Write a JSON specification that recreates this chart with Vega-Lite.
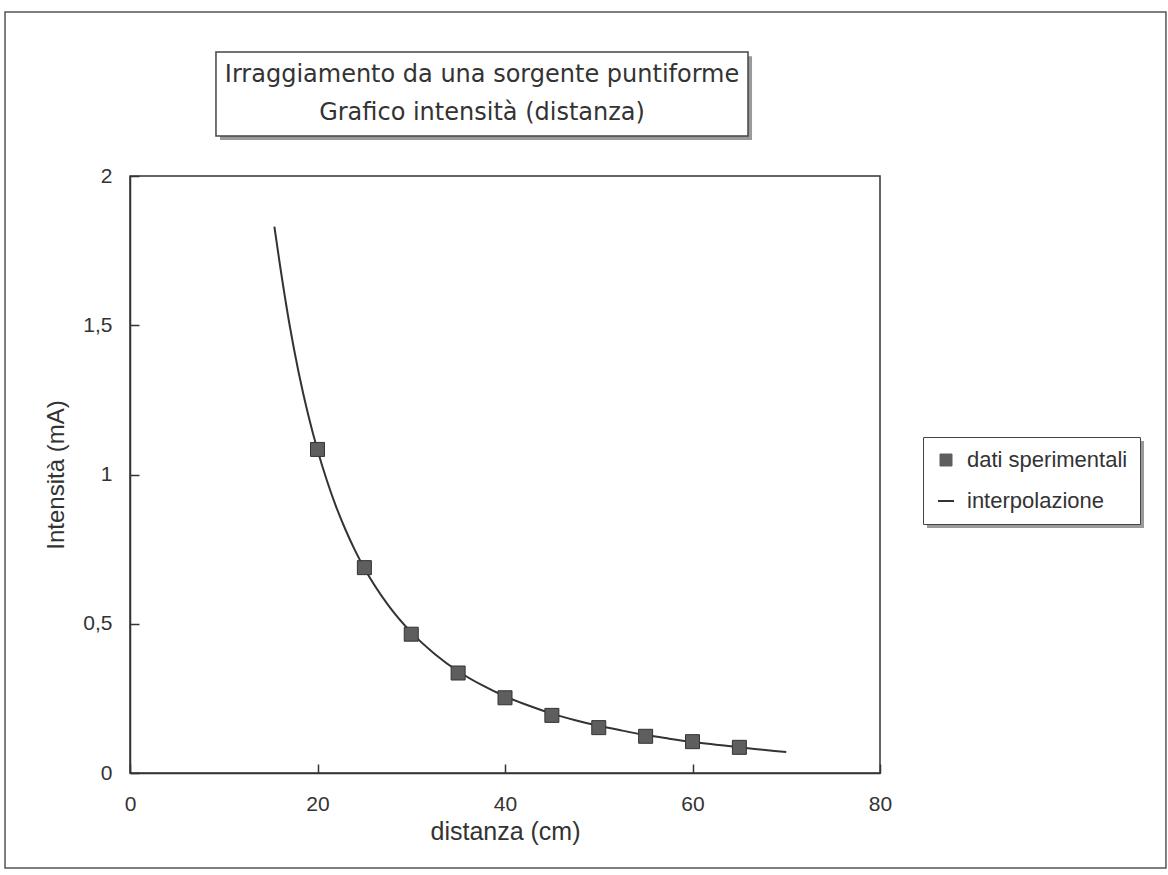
{
  "$schema": "https://vega.github.io/schema/vega-lite/v6.json",
  "width": 750,
  "height": 597,
  "padding": {"left": 4, "top": 11, "right": 0, "bottom": 0},
  "background": "white",
  "config": {
    "view": {"stroke": "#333", "strokeWidth": 1.5},
    "font": "Liberation Sans",
    "axis": {
      "grid": false,
      "domainColor": "#333",
      "domainWidth": 1.5,
      "tickColor": "#333",
      "tickWidth": 1.5,
      "tickSize": -9,
      "labelColor": "#333",
      "titleColor": "#333",
      "labelFont": "Liberation Sans Narrow, Liberation Sans",
      "labelFontSize": 21,
      "titleFont": "Liberation Sans",
      "titleFontWeight": "normal",
      "labelFlush": false
    }
  },
  "datasets": {
    "misure": [
      {"distanza": 20, "intensita": 1.084, "serie": "dati sperimentali"},
      {"distanza": 25, "intensita": 0.688, "serie": "dati sperimentali"},
      {"distanza": 30, "intensita": 0.465, "serie": "dati sperimentali"},
      {"distanza": 35, "intensita": 0.335, "serie": "dati sperimentali"},
      {"distanza": 40, "intensita": 0.252, "serie": "dati sperimentali"},
      {"distanza": 45, "intensita": 0.193, "serie": "dati sperimentali"},
      {"distanza": 50, "intensita": 0.152, "serie": "dati sperimentali"},
      {"distanza": 55, "intensita": 0.123, "serie": "dati sperimentali"},
      {"distanza": 60, "intensita": 0.105, "serie": "dati sperimentali"},
      {"distanza": 65, "intensita": 0.086, "serie": "dati sperimentali"}
    ],
    "curva": [
      {"distanza": 15.4, "intensita": 1.83, "serie": "interpolazione"},
      {"distanza": 16, "intensita": 1.701, "serie": "interpolazione"},
      {"distanza": 17, "intensita": 1.505, "serie": "interpolazione"},
      {"distanza": 18, "intensita": 1.34, "serie": "interpolazione"},
      {"distanza": 19, "intensita": 1.201, "serie": "interpolazione"},
      {"distanza": 20, "intensita": 1.082, "serie": "interpolazione"},
      {"distanza": 21, "intensita": 0.98, "serie": "interpolazione"},
      {"distanza": 22, "intensita": 0.891, "serie": "interpolazione"},
      {"distanza": 23, "intensita": 0.814, "serie": "interpolazione"},
      {"distanza": 24, "intensita": 0.746, "serie": "interpolazione"},
      {"distanza": 25, "intensita": 0.686, "serie": "interpolazione"},
      {"distanza": 27.5, "intensita": 0.564, "serie": "interpolazione"},
      {"distanza": 30, "intensita": 0.471, "serie": "interpolazione"},
      {"distanza": 32.5, "intensita": 0.399, "serie": "interpolazione"},
      {"distanza": 35, "intensita": 0.341, "serie": "interpolazione"},
      {"distanza": 37.5, "intensita": 0.295, "serie": "interpolazione"},
      {"distanza": 40, "intensita": 0.257, "serie": "interpolazione"},
      {"distanza": 42.5, "intensita": 0.226, "serie": "interpolazione"},
      {"distanza": 45, "intensita": 0.199, "serie": "interpolazione"},
      {"distanza": 47.5, "intensita": 0.177, "serie": "interpolazione"},
      {"distanza": 50, "intensita": 0.158, "serie": "interpolazione"},
      {"distanza": 52.5, "intensita": 0.142, "serie": "interpolazione"},
      {"distanza": 55, "intensita": 0.127, "serie": "interpolazione"},
      {"distanza": 57.5, "intensita": 0.115, "serie": "interpolazione"},
      {"distanza": 60, "intensita": 0.104, "serie": "interpolazione"},
      {"distanza": 62.5, "intensita": 0.095, "serie": "interpolazione"},
      {"distanza": 65, "intensita": 0.086, "serie": "interpolazione"},
      {"distanza": 67.5, "intensita": 0.078, "serie": "interpolazione"},
      {"distanza": 70, "intensita": 0.07, "serie": "interpolazione"}
    ]
  },
  "layer": [
    {
      "description": "chart area border",
      "data": {"values": [{}]},
      "mark": {"type": "rect", "fillOpacity": 0, "stroke": "#555", "strokeWidth": 1.5, "clip": false},
      "encoding": {
        "x": {"datum": -13.33, "type": "quantitative", "scale": {"domain": [0, 80]}},
        "x2": {"datum": 110.5},
        "y": {"datum": 2.549, "type": "quantitative", "scale": {"domain": [0, 2]}},
        "y2": {"datum": -0.318}
      }
    },
    {
      "description": "title box shadow",
      "data": {"values": [{}]},
      "mark": {"type": "rect", "fill": "#9a9a9a", "clip": false},
      "encoding": {
        "x": {"datum": 9.6, "type": "quantitative", "scale": {"domain": [0, 80]}},
        "x2": {"datum": 66.35},
        "y": {"datum": 2.401, "type": "quantitative", "scale": {"domain": [0, 2]}},
        "y2": {"datum": 2.121}
      }
    },
    {
      "description": "title box",
      "data": {"values": [{}]},
      "mark": {"type": "rect", "fill": "white", "stroke": "#444", "strokeWidth": 1.5, "clip": false},
      "encoding": {
        "x": {"datum": 9.17, "type": "quantitative", "scale": {"domain": [0, 80]}},
        "x2": {"datum": 65.92},
        "y": {"datum": 2.415, "type": "quantitative", "scale": {"domain": [0, 2]}},
        "y2": {"datum": 2.134}
      }
    },
    {
      "description": "chart title",
      "data": {"values": [{}]},
      "mark": {
        "type": "text",
        "text": "Irraggiamento da una sorgente puntiforme\nGrafico intensità (distanza)",
        "lineBreak": "\n",
        "font": "DejaVu Sans",
        "fontSize": 24,
        "lineHeight": 38,
        "align": "center",
        "baseline": "middle",
        "color": "#333",
        "clip": false
      },
      "encoding": {
        "x": {"datum": 37.55, "type": "quantitative", "scale": {"domain": [0, 80]}},
        "y": {"datum": 2.338, "type": "quantitative", "scale": {"domain": [0, 2]}}
      }
    },
    {
      "description": "legend box shadow",
      "data": {"values": [{}]},
      "mark": {"type": "rect", "fill": "#9a9a9a", "clip": false},
      "encoding": {
        "x": {"datum": 85.01, "type": "quantitative", "scale": {"domain": [0, 80]}},
        "x2": {"datum": 108.16},
        "y": {"datum": 1.1122, "type": "quantitative", "scale": {"domain": [0, 2]}},
        "y2": {"datum": 0.8208}
      }
    },
    {
      "data": {"name": "curva"},
      "mark": {"type": "line", "strokeWidth": 2, "interpolate": "monotone", "clip": true},
      "encoding": {
        "x": {
          "field": "distanza", "type": "quantitative",
          "scale": {"domain": [0, 80], "nice": false},
          "axis": {"values": [0, 20, 40, 60, 80], "labelPadding": 29, "title": "distanza (cm)", "titleFontSize": 25, "titlePadding": 5}
        },
        "y": {
          "field": "intensita", "type": "quantitative",
          "scale": {"domain": [0, 2], "nice": false},
          "axis": {"values": [0, 0.5, 1, 1.5, 2], "format": "~g", "labelExpr": "replace(datum.label, '.', ',')", "labelPadding": 27, "title": "Intensità (mA)", "titleFontSize": 24, "titlePadding": 14}
        },
        "color": {
          "field": "serie", "type": "nominal",
          "scale": {"domain": ["dati sperimentali", "interpolazione"], "range": ["#5e5e5e", "#333333"]},
          "legend": {
            "orient": "none",
            "legendX": 793,
            "legendY": 261,
            "title": null,
            "padding": 12,
            "strokeColor": "#444",
            "fillColor": "white",
            "labelFont": "Liberation Sans",
            "labelFontSize": 22,
            "labelLimit": 400,
            "labelColor": "#333",
            "labelOffset": 10,
            "rowPadding": 19,
            "symbolSize": 144,
            "encode": {
              "symbols": {
                "update": {
                  "shape": {"signal": "datum.value === 'interpolazione' ? 'stroke' : 'square'"},
                  "size": {"signal": "datum.value === 'interpolazione' ? 256 : 144"},
                  "fill": {"signal": "datum.value === 'interpolazione' ? 'transparent' : '#5e5e5e'"},
                  "stroke": {"value": "#333"},
                  "strokeWidth": {"signal": "datum.value === 'interpolazione' ? 2 : 1"}
                }
              }
            }
          }
        }
      }
    },
    {
      "data": {"name": "misure"},
      "mark": {"type": "point", "shape": "square", "filled": true, "size": 196, "stroke": "#333", "strokeWidth": 1, "opacity": 1},
      "encoding": {
        "x": {"field": "distanza", "type": "quantitative", "scale": {"domain": [0, 80], "nice": false}},
        "y": {"field": "intensita", "type": "quantitative", "scale": {"domain": [0, 2], "nice": false}},
        "color": {"field": "serie", "type": "nominal"}
      }
    }
  ]
}
